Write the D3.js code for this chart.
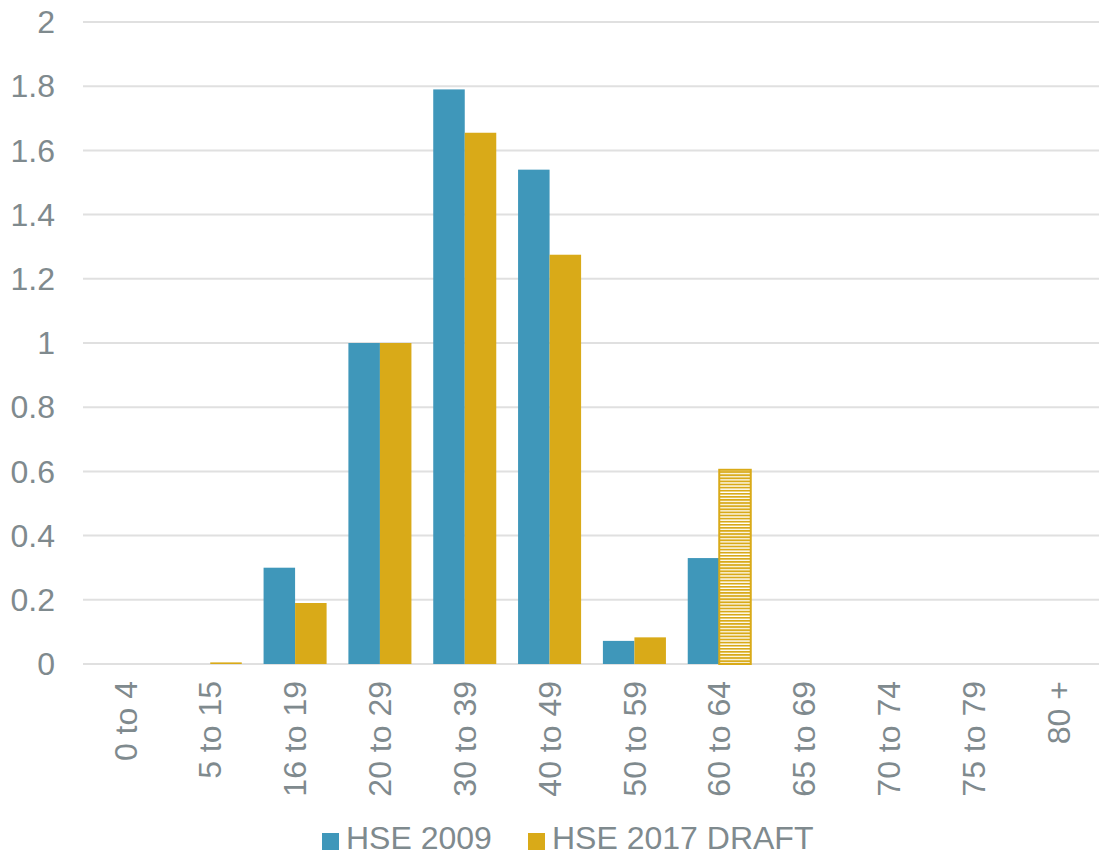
<!DOCTYPE html>
<html>
<head>
<meta charset="utf-8">
<script src="https://cdn.jsdelivr.net/npm/d3@7"></script>
<style>
  body { margin: 0; background: #fff; }
  text { font-family: "Liberation Sans", Arial, sans-serif; fill: #7f8a8e; }
</style>
</head>
<body>
<div id="vis-container"></div>
<script>
var categories = ["0 to 4","5 to 15","16 to 19","20 to 29","30 to 39","40 to 49","50 to 59","60 to 64","65 to 69","70 to 74","75 to 79","80 +"];
var hse2009 = [0, 0, 0.30, 1.00, 1.79, 1.54, 0.072, 0.33, 0, 0, 0, 0];
var hse2017 = [0, 0.005, 0.19, 1.00, 1.655, 1.275, 0.083, 0.605, 0, 0, 0, 0];
// the 2017 value for this group is drawn hatched (provisional)
var provisional = ["60 to 64"];
var seriesNames = ["HSE 2009", "HSE 2017 DRAFT"];
var yTicks = [0, 0.2, 0.4, 0.6, 0.8, 1, 1.2, 1.4, 1.6, 1.8, 2];

var colors = ["#3f97ba", "#d9aa18"];
var width = 1099, height = 856;
var margin = {top: 22, left: 83, right: -2, bottom: 192};

var svg = d3.select("#vis-container").append("svg")
    .attr("width", width)
    .attr("height", height);

var defs = svg.append("defs");
var pat = defs.append("pattern")
    .attr("id", "hatch")
    .attr("patternUnits", "userSpaceOnUse")
    .attr("width", 6).attr("height", 3.1);
pat.append("rect").attr("width", 6).attr("height", 3.1).attr("fill", "#fff");
pat.append("rect").attr("width", 6).attr("height", 1.8).attr("fill", colors[1]);

var x = d3.scaleBand()
    .domain(categories)
    .range([margin.left, width - margin.right])
    .padding(0);
var x1 = d3.scaleBand()
    .domain([0, 1])
    .range([0, x.bandwidth()])
    .paddingOuter(0.346)
    .paddingInner(0);
var y = d3.scaleLinear()
    .domain([0, 2])
    .range([height - margin.bottom, margin.top]);

// gridlines
svg.append("g")
    .selectAll("line")
    .data(yTicks)
    .enter().append("line")
    .attr("x1", margin.left)
    .attr("x2", width)
    .attr("y1", function(d) { return y(d); })
    .attr("y2", function(d) { return y(d); })
    .attr("stroke", "#e0e0e0")
    .attr("stroke-width", 2);

// y labels
svg.append("g")
    .selectAll("text")
    .data(yTicks)
    .enter().append("text")
    .attr("x", 55)
    .attr("y", function(d) { return y(d); })
    .attr("dy", "0.35em")
    .attr("text-anchor", "end")
    .style("font-size", "32px")
    .text(function(d) { return d; });

// bars
var rows = categories.map(function(c, i) {
    return {cat: c, vals: [hse2009[i], hse2017[i]]};
});
var groups = svg.append("g")
    .selectAll("g")
    .data(rows)
    .enter().append("g")
    .attr("transform", function(d) { return "translate(" + x(d.cat) + ",0)"; });

groups.selectAll("rect")
    .data(function(d) {
        return d.vals.map(function(v, k) {
            return {k: k, v: v, hatched: k === 1 && provisional.includes(d.cat)};
        });
    })
    .enter().append("rect")
    .filter(function(d) { return d.v > 0; })
    .attr("x", function(d) { return x1(d.k); })
    .attr("width", x1.bandwidth())
    .attr("y", function(d) { return y(d.v); })
    .attr("height", function(d) { return y(0) - y(d.v); })
    .attr("fill", function(d) { return d.hatched ? "url(#hatch)" : colors[d.k]; })
    .attr("stroke", function(d) { return d.hatched ? colors[1] : "none"; })
    .attr("stroke-width", 2);

// x labels
svg.append("g")
    .selectAll("text")
    .data(categories)
    .enter().append("text")
    .attr("transform", function(d) {
        return "translate(" + (x(d) + x.bandwidth() / 2) + ",681) rotate(-90)";
    })
    .attr("dy", "0.35em")
    .attr("text-anchor", "end")
    .style("font-size", "32px")
    .text(function(d) { return d; });

// legend
var legendX = [322, 528];
var legend = svg.append("g")
    .selectAll("g")
    .data(seriesNames)
    .enter().append("g")
    .attr("transform", function(d, i) { return "translate(" + legendX[i] + ",833)"; });
legend.append("rect")
    .attr("width", 17).attr("height", 17)
    .attr("fill", function(d, i) { return colors[i]; });
legend.append("text")
    .attr("x", 24)
    .attr("y", 16)
    .style("font-size", "32px")
    .text(function(d) { return d; });
</script>
</body>
</html>
